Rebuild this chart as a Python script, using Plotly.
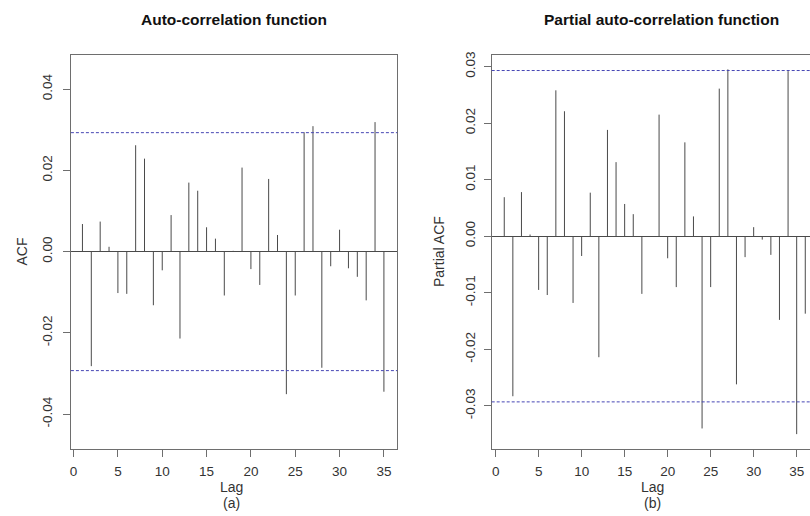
import plotly.graph_objects as go

lags = list(range(1, 36))
acf_vals = [0.0068, -0.0282, 0.0074, 0.0012, -0.0102, -0.0104, 0.0262, 0.0229, -0.0132, -0.0046,
            0.0090, -0.0214, 0.0170, 0.0150, 0.0060, 0.0032, -0.0108, 0.0002, 0.0207, -0.0043,
            -0.0082, 0.0179, 0.0041, -0.0351, -0.0108, 0.0294, 0.0309, -0.0286, -0.0036, 0.0054,
            -0.0041, -0.0062, -0.0120, 0.0319, -0.0345]

pacf_lags = list(range(1, 37))
pacf_vals = [0.0069, -0.0283, 0.0078, 0.0003, -0.0095, -0.0104, 0.0258, 0.0221, -0.0118, -0.0035,
             0.0077, -0.0214, 0.0188, 0.0131, 0.0057, 0.0039, -0.0102, 0.0000, 0.0215, -0.0039,
             -0.0090, 0.0166, 0.0035, -0.0340, -0.0090, 0.0261, 0.0295, -0.0262, -0.0037, 0.0016,
             -0.0006, -0.0033, -0.0148, 0.0292, -0.0350, -0.0137]

conf = 0.0293

acf_ticks = [-0.04, -0.02, 0.0, 0.02, 0.04]
acf_ticktext = ["-0.04", "-0.02", "0.00", "0.02", "0.04"]
pacf_ticks = [-0.03, -0.02, -0.01, 0.0, 0.01, 0.02, 0.03]
pacf_ticktext = ["-0.03", "-0.02", "-0.01", "0.00", "0.01", "0.02", "0.03"]
x_ticks = [0, 5, 10, 15, 20, 25, 30, 35]

W, H = 810, 516
FONT = "Liberation Sans, Arial, sans-serif"
BAR = "#4a4a4a"
BOX = "#6e6e6e"
BLUE = "#4646b4"


def stems(xs, ys):
    sx, sy = [], []
    for x, y in zip(xs, ys):
        sx += [x, x, None]
        sy += [0, y, None]
    return sx, sy


fig = go.Figure()
ax, ay = stems(lags, acf_vals)
fig.add_trace(go.Scatter(x=ax, y=ay, mode="lines", line=dict(color=BAR, width=1),
                         xaxis="x", yaxis="y", showlegend=False, hoverinfo="skip"))
px_, py_ = stems(pacf_lags, pacf_vals)
fig.add_trace(go.Scatter(x=px_, y=py_, mode="lines", line=dict(color=BAR, width=1),
                         xaxis="x2", yaxis="y2", showlegend=False, hoverinfo="skip"))

# layout geometry (pixels)
L1, R1 = 70, 396.7
L2, R2 = 491.3, 810
TOP, BOT = 52, 449

common_x = dict(showgrid=False, zeroline=False, showline=True, mirror=True, linecolor=BOX, linewidth=1,
                ticks="outside", ticklen=7, tickcolor=BOX, tickwidth=1, ticklabelstandoff=2,
                tickvals=x_ticks, tickfont=dict(family=FONT, size=13.5, color="#333"))
common_y = dict(showgrid=False, zeroline=True, zerolinecolor=BAR, zerolinewidth=1,
                showline=True, linecolor=BOX, linewidth=1,
                ticks="outside", ticklen=7, tickcolor=BOX, tickwidth=1, tickangle=-90,
                tickfont=dict(family=FONT, size=13.5, color="#333"))

fig.update_layout(
    width=W, height=H, margin=dict(l=0, r=0, t=0, b=0),
    paper_bgcolor="white", plot_bgcolor="white",
    xaxis=dict(domain=[L1 / W, R1 / W], range=[-0.3, 36.5], anchor="y", **common_x),
    yaxis=dict(domain=[(H - BOT) / H, (H - TOP) / H], range=[-0.0487, 0.0485], anchor="x",
               tickvals=acf_ticks, ticktext=acf_ticktext, mirror=True, ticklabelstandoff=6, **common_y),
    xaxis2=dict(domain=[L2 / W, R2 / W], range=[-0.46, 36.55], anchor="y2", **common_x),
    yaxis2=dict(domain=[(H - BOT) / H, (H - TOP) / H], range=[-0.0377, 0.0321], anchor="x2",
                tickvals=pacf_ticks, ticktext=pacf_ticktext, mirror=False, ticklabelstandoff=3,
                **common_y),
)

shapes = []
for xr, yr in (("x domain", "y"), ("x2 domain", "y2")):
    for v in (conf, -conf):
        shapes.append(dict(type="line", xref=xr, yref=yr, x0=0, x1=1, y0=v, y1=v,
                           line=dict(color=BLUE, width=1, dash="3px,2px")))
fig.update_layout(shapes=shapes)


def ann(text, x, y, size=14, bold=False, angle=0):
    return dict(text=f"<b>{text}</b>" if bold else text, x=x / W, y=1 - y / H, xref="paper", yref="paper",
                showarrow=False, textangle=angle, xanchor="center", yanchor="middle",
                font=dict(family=FONT, size=size, color="#111" if bold else "#333"))


fig.update_layout(annotations=[
    ann("Auto-correlation function", 233, 17, size=15.5, bold=True),
    ann("Partial auto-correlation function", 661, 17, size=15.5, bold=True),
    ann("ACF", 21, 250, angle=-90),
    ann("Partial ACF", 438, 250, angle=-90),
    ann("Lag", 231, 487),
    ann("(a)", 231, 503),
    ann("Lag", 652, 487),
    ann("(b)", 652, 503),
])

fig.write_html("out.html", config={"displayModeBar": False},
               post_script="document.body.style.margin='0';document.body.style.overflow='hidden';")
